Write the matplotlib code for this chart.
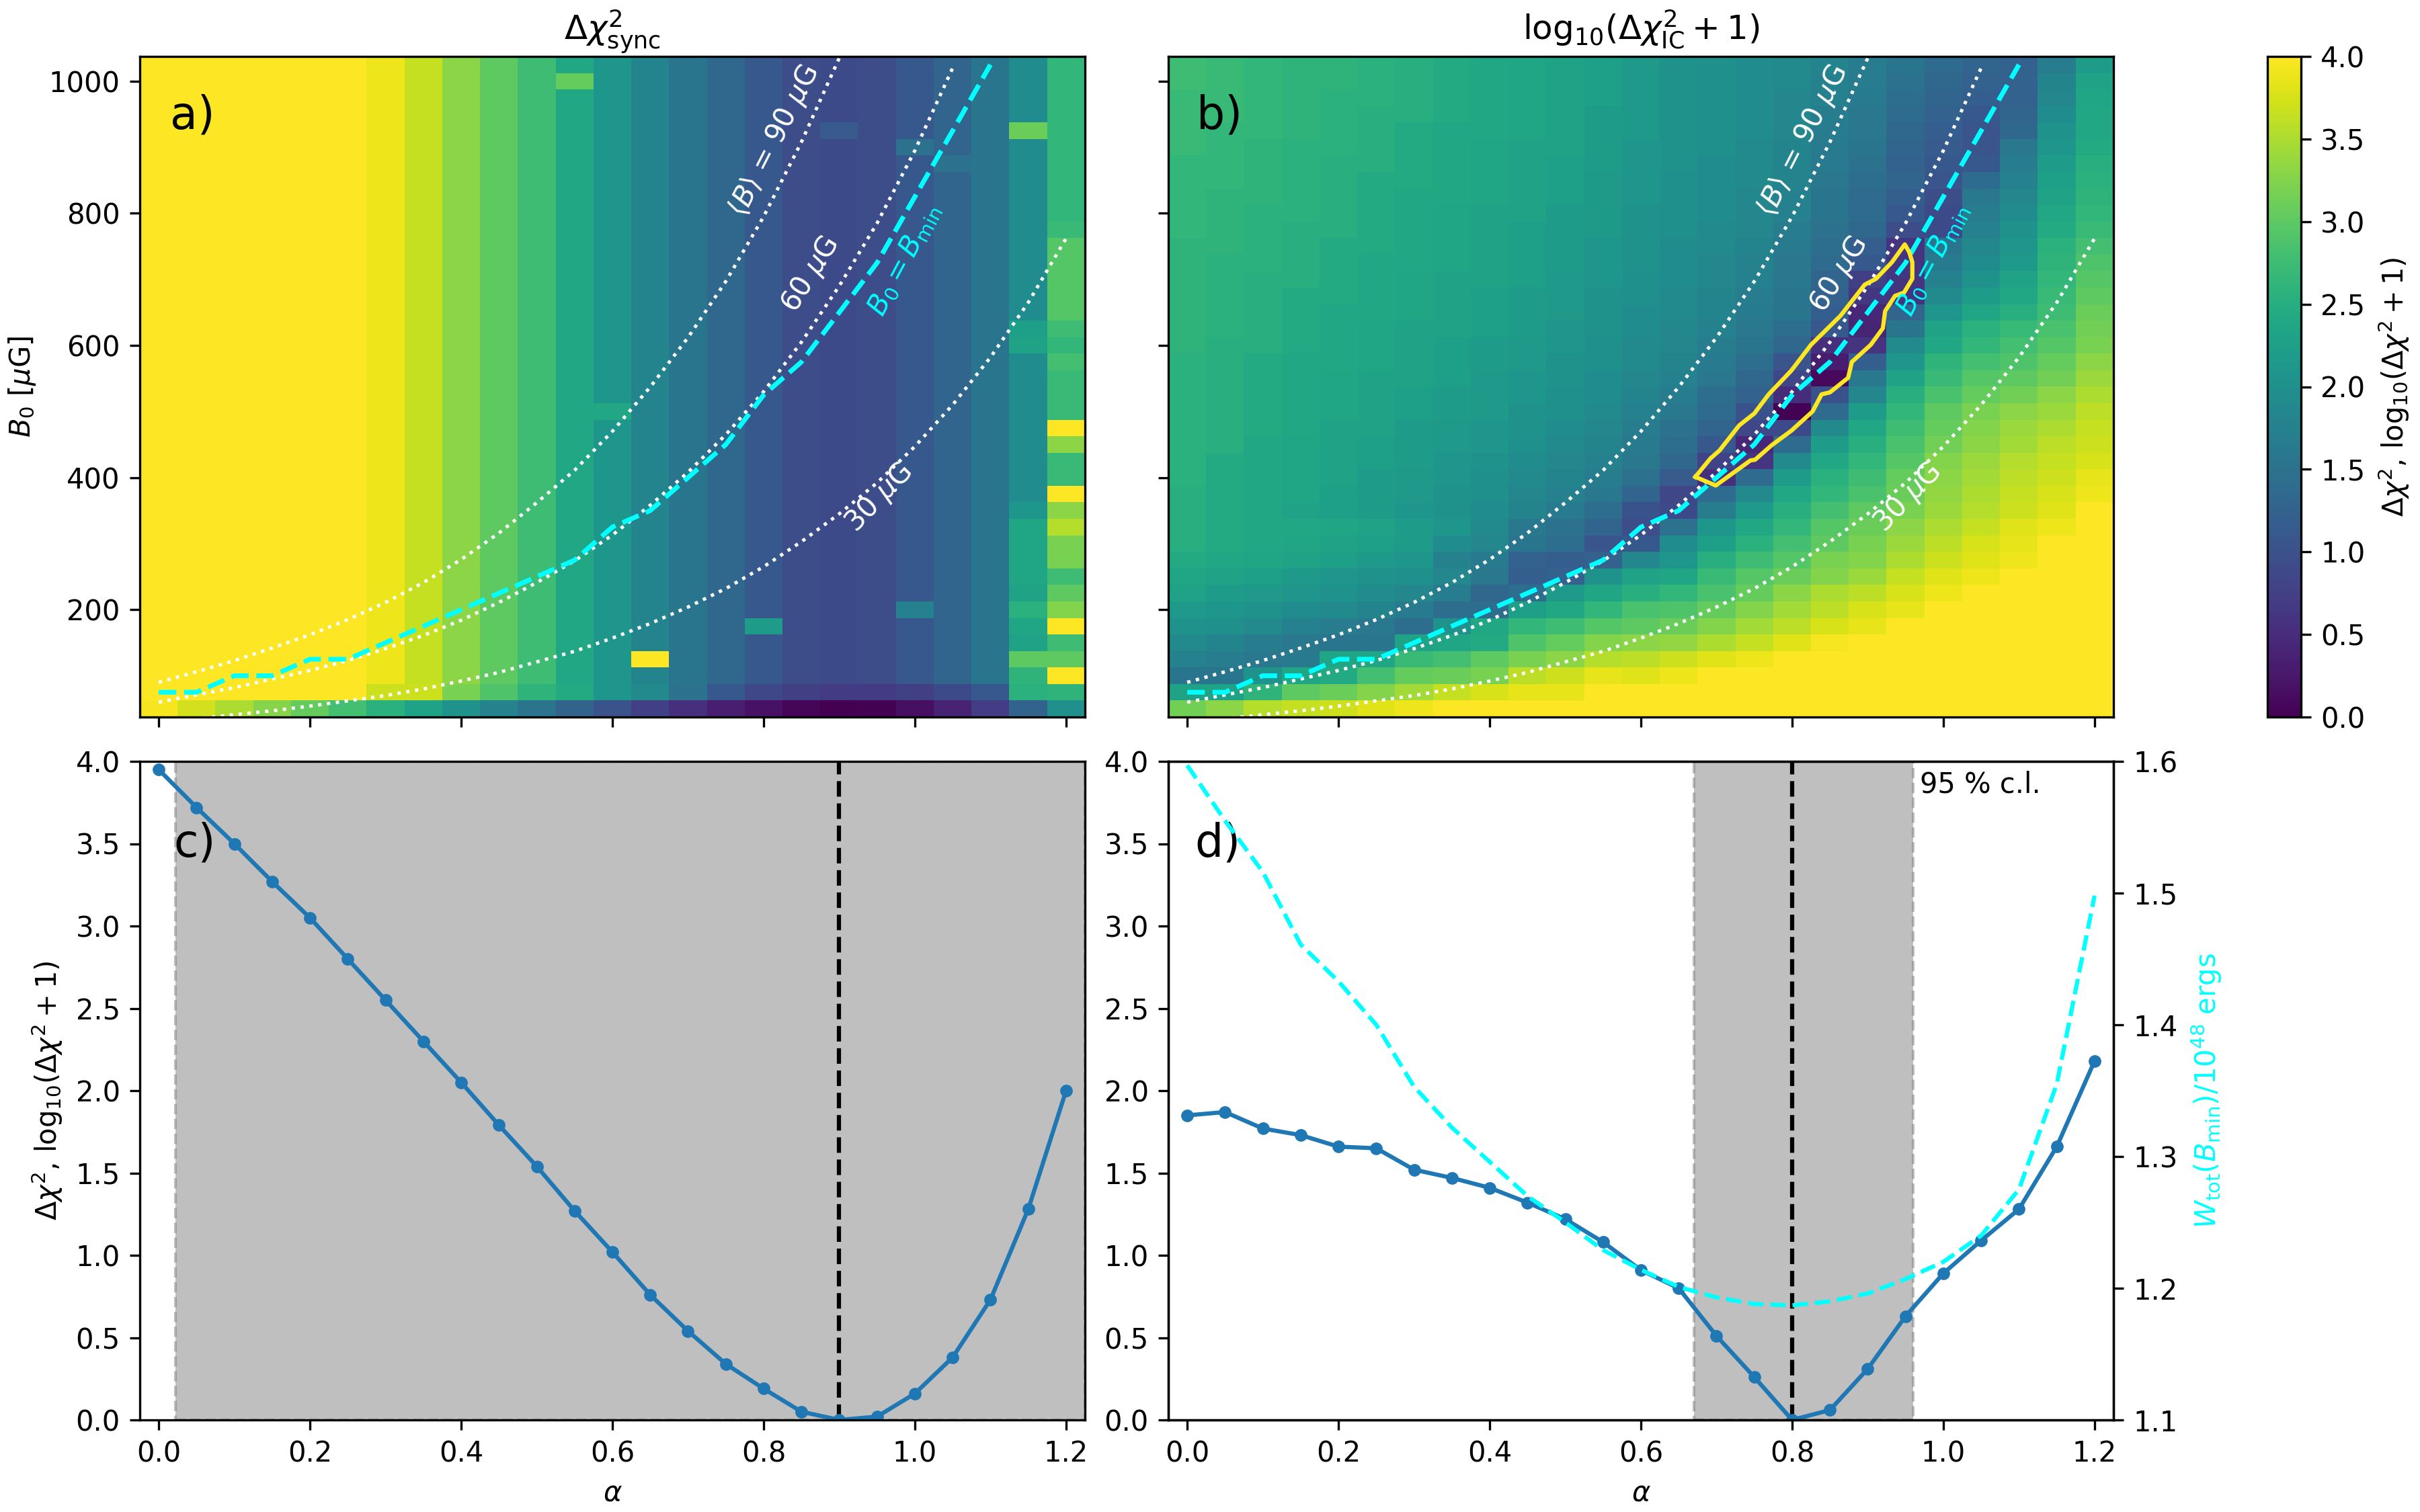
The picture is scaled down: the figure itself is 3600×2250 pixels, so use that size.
import numpy as np
import matplotlib
matplotlib.use('Agg')
import matplotlib.pyplot as plt

alpha = [0.0, 0.05, 0.1, 0.15, 0.2, 0.25, 0.3, 0.35, 0.4, 0.45, 0.5, 0.55, 0.6,
         0.65, 0.7, 0.75, 0.8, 0.85, 0.9, 0.95, 1.0, 1.05, 1.1, 1.15, 1.2]
# magnetic field rows, top row of the maps first
b0 = [1025, 1000, 975, 950, 925, 900, 875, 850, 825, 800, 775, 750, 725, 700,
      675, 650, 625, 600, 575, 550, 525, 500, 475, 450, 425, 400, 375, 350,
      325, 300, 275, 250, 225, 200, 175, 150, 125, 100, 75, 50]

# panel c / d curves
chi_sync_min = [3.95, 3.72, 3.5, 3.27, 3.05, 2.8, 2.55, 2.3, 2.05, 1.79, 1.54, 1.27, 1.02,
                0.76, 0.54, 0.34, 0.19, 0.05, 0.0, 0.02, 0.16, 0.38, 0.73, 1.28, 2.0]
chi_ic_min = [1.85, 1.87, 1.77, 1.73, 1.66, 1.65, 1.52, 1.47, 1.41, 1.32, 1.22, 1.08, 0.91,
              0.8, 0.51, 0.26, 0.0, 0.06, 0.31, 0.63, 0.89, 1.09, 1.28, 1.66, 2.18]
w_tot = [1.597, 1.555, 1.516, 1.461, 1.433, 1.40, 1.353, 1.322, 1.296, 1.27, 1.25, 1.229,
         1.214, 1.201, 1.193, 1.188, 1.187, 1.19, 1.196, 1.207, 1.22, 1.24, 1.275, 1.355, 1.498]

# B0 = B_min and the constant <B> curves
b_min = [75, 75, 100, 100, 125, 125, 150, 175, 200, 225, 250, 275, 325, 350, 400, 450,
         525, 575, 650, 725, 825, 925, 1025]
b_90 = [90, 106, 123, 142, 162, 185, 211, 241, 276, 316, 362, 411, 470, 537, 612, 697,
        795, 908, 1035]
b_60 = [60, 71, 82, 95, 108, 123, 141, 161, 184, 211, 241, 274, 313, 358, 408, 465,
        530, 605, 690, 785, 895, 1020]
b_30 = [30, 35, 41, 47, 54, 62, 70, 80, 92, 105, 121, 137, 157, 179, 204, 232,
        265, 303, 345, 392, 447, 510, 582, 665, 762]

# 95 % contour in panel b
cl_alpha = [0.672, 0.692, 0.704, 0.730, 0.750, 0.769, 0.799, 0.825, 0.864, 0.896, 0.911,
            0.932, 0.949, 0.955, 0.959, 0.959, 0.948, 0.936, 0.923, 0.920, 0.904, 0.879,
            0.874, 0.850, 0.839, 0.827, 0.799, 0.773, 0.751, 0.745, 0.699, 0.672]
cl_b0 = [401, 429, 441, 479, 497, 526, 562, 601, 645, 692, 701, 726, 753, 741, 726, 701,
         680, 675, 652, 626, 601, 575, 551, 529, 526, 500, 471, 449, 427, 426, 388, 401]

# panel a is nearly constant along B0
sync_levels = [4, 4, 4, 4, 4, 4, 3.9, 3.65, 3.3, 3.0, 2.75, 2.4, 2.1, 1.8, 1.55, 1.35,
               1.1, 0.95, 0.9, 0.95, 1.1, 1.3, 1.55, 1.95, 2.65]
sync_row_75 = [4, 4, 4, 4, 4, 4, 3.7, 3.7, 3.2, 2.9, 2.6, 2.45, 2.1, 1.9, 1.5, 1.1, 0.85,
               0.75, 0.7, 0.7, 0.75, 0.9, 1.1, 2.55, 2.6]
sync_col_115 = [1.95, 1.95, 1.95, 1.95, 3.1, 1.95, 1.95, 1.95, 1.95, 1.95, 1.95, 1.95, 1.95,
                1.95, 1.95, 1.95, 2.25, 2.3, 1.95, 1.95, 1.95, 1.95, 1.95, 1.95, 1.95, 1.95,
                1.95, 2.1, 2.35, 2.35, 2.35, 2.35, 2.3, 2.55, 2.35, 2.3, 3.0, 2.6, 2.55, 1.28]
sync_col_120 = [2.65, 2.65, 2.65, 2.65, 2.65, 2.65, 2.65, 2.65, 2.65, 2.65, 2.7, 2.95, 2.95,
                2.95, 2.95, 2.95, 2.75, 2.65, 2.8, 2.7, 2.7, 2.7, 4, 3.3, 2.7, 2.7, 4, 3.3,
                3.55, 3.2, 3.2, 2.75, 3.0, 3.25, 4, 2.75, 3.0, 4, 2.6, 2.0]
# single odd cells: alpha index, row index, value
sync_cells = [(11, 1, 3.05), (18, 4, 1.15), (20, 5, 1.5), (21, 6, 1.5), (12, 21, 2.4),
              (13, 36, 4), (16, 34, 2.2), (20, 33, 1.75)]

chi_ic_map = [
    [2.75, 2.7, 2.65, 2.6, 2.6, 2.55, 2.5, 2.45, 2.4, 2.35, 2.3, 2.25, 2.15, 2.05, 2.0, 1.95, 1.9, 1.8, 1.7, 1.55, 1.4, 1.3, 1.25, 1.7, 2.2],
    [2.75, 2.7, 2.65, 2.6, 2.6, 2.55, 2.5, 2.45, 2.4, 2.35, 2.3, 2.25, 2.15, 2.05, 2.0, 1.95, 1.9, 1.75, 1.7, 1.5, 1.35, 1.25, 1.25, 1.8, 2.3],
    [2.7, 2.7, 2.65, 2.6, 2.55, 2.55, 2.5, 2.45, 2.4, 2.35, 2.3, 2.25, 2.15, 2.05, 2.0, 1.95, 1.85, 1.75, 1.65, 1.45, 1.3, 1.2, 1.25, 1.85, 2.35],
    [2.7, 2.7, 2.65, 2.6, 2.55, 2.5, 2.5, 2.45, 2.4, 2.35, 2.3, 2.2, 2.15, 2.05, 2.0, 1.95, 1.85, 1.7, 1.6, 1.4, 1.25, 1.1, 1.3, 1.95, 2.4],
    [2.7, 2.65, 2.65, 2.6, 2.55, 2.5, 2.45, 2.4, 2.4, 2.35, 2.3, 2.2, 2.15, 2.05, 2.0, 1.95, 1.85, 1.7, 1.6, 1.35, 1.2, 1.05, 1.35, 2.05, 2.4],
    [2.7, 2.65, 2.6, 2.55, 2.55, 2.5, 2.45, 2.4, 2.35, 2.3, 2.3, 2.2, 2.1, 2.05, 2.0, 1.9, 1.8, 1.65, 1.55, 1.3, 1.15, 1.05, 1.6, 2.1, 2.45],
    [2.65, 2.65, 2.6, 2.55, 2.5, 2.5, 2.45, 2.4, 2.35, 2.3, 2.25, 2.2, 2.1, 2.05, 1.95, 1.9, 1.8, 1.65, 1.5, 1.25, 1.1, 1.1, 1.7, 2.2, 2.5],
    [2.65, 2.65, 2.6, 2.55, 2.5, 2.45, 2.45, 2.4, 2.35, 2.3, 2.25, 2.15, 2.1, 2.0, 1.95, 1.9, 1.8, 1.6, 1.45, 1.3, 1.05, 1.4, 1.75, 2.25, 2.55],
    [2.65, 2.6, 2.6, 2.55, 2.5, 2.45, 2.4, 2.4, 2.35, 2.3, 2.25, 2.15, 2.1, 2.0, 1.95, 1.85, 1.75, 1.55, 1.4, 1.2, 0.95, 1.6, 1.85, 2.3, 2.6],
    [2.65, 2.6, 2.55, 2.55, 2.5, 2.45, 2.4, 2.35, 2.3, 2.3, 2.2, 2.15, 2.05, 2.0, 1.95, 1.85, 1.75, 1.55, 1.4, 1.1, 0.9, 1.7, 1.95, 2.4, 2.65],
    [2.65, 2.6, 2.55, 2.5, 2.5, 2.45, 2.4, 2.35, 2.3, 2.25, 2.2, 2.15, 2.05, 2.0, 1.9, 1.85, 1.7, 1.5, 1.35, 0.95, 0.9, 1.75, 2.05, 2.45, 2.7],
    [2.6, 2.6, 2.55, 2.5, 2.45, 2.45, 2.4, 2.35, 2.3, 2.25, 2.2, 2.1, 2.05, 1.95, 1.9, 1.8, 1.65, 1.45, 1.2, 0.6, 1.55, 1.85, 2.1, 2.55, 2.8],
    [2.6, 2.55, 2.55, 2.5, 2.45, 2.4, 2.4, 2.35, 2.3, 2.25, 2.2, 2.1, 2.05, 1.95, 1.85, 1.75, 1.6, 1.4, 1.1, 0.6, 1.65, 1.95, 2.15, 2.6, 2.9],
    [2.6, 2.55, 2.5, 2.5, 2.45, 2.4, 2.35, 2.3, 2.3, 2.25, 2.15, 2.1, 2.0, 1.95, 1.85, 1.75, 1.6, 1.3, 0.75, 0.6, 1.75, 2.05, 2.3, 2.65, 2.95],
    [2.6, 2.55, 2.5, 2.45, 2.45, 2.4, 2.35, 2.3, 2.25, 2.2, 2.15, 2.05, 2.0, 1.9, 1.8, 1.7, 1.55, 1.25, 0.65, 0.6, 1.9, 2.2, 2.4, 2.7, 3.0],
    [2.6, 2.55, 2.5, 2.45, 2.4, 2.4, 2.35, 2.3, 2.25, 2.2, 2.15, 2.05, 1.95, 1.9, 1.8, 1.65, 1.55, 1.2, 0.45, 1.3, 2.1, 2.35, 2.5, 2.75, 3.1],
    [2.6, 2.55, 2.5, 2.45, 2.4, 2.35, 2.3, 2.3, 2.25, 2.2, 2.1, 2.05, 1.95, 1.85, 1.75, 1.6, 1.45, 1.1, 0.42, 1.55, 2.3, 2.55, 2.7, 2.85, 3.15],
    [2.6, 2.5, 2.5, 2.45, 2.4, 2.35, 2.3, 2.25, 2.2, 2.15, 2.1, 2.0, 1.9, 1.85, 1.7, 1.55, 1.35, 0.55, 0.6, 1.9, 2.4, 2.65, 2.8, 2.95, 3.2],
    [2.55, 2.5, 2.45, 2.4, 2.4, 2.35, 2.3, 2.25, 2.2, 2.15, 2.05, 2.0, 1.9, 1.8, 1.65, 1.45, 1.05, 0.3, 1.2, 2.1, 2.6, 2.8, 2.9, 3.05, 3.3],
    [2.55, 2.5, 2.45, 2.4, 2.35, 2.3, 2.3, 2.25, 2.15, 2.1, 2.05, 1.95, 1.85, 1.75, 1.6, 1.35, 0.85, 0.1, 1.6, 2.3, 2.7, 2.95, 3.0, 3.15, 3.4],
    [2.55, 2.5, 2.45, 2.4, 2.35, 2.3, 2.25, 2.2, 2.15, 2.1, 2.0, 1.95, 1.8, 1.7, 1.45, 1.25, 0.5, 1.0, 1.85, 2.5, 2.85, 3.05, 3.15, 3.3, 3.5],
    [2.55, 2.5, 2.45, 2.4, 2.35, 2.3, 2.25, 2.2, 2.15, 2.05, 2.0, 1.9, 1.75, 1.6, 1.4, 1.0, 0.02, 1.4, 2.2, 2.65, 3.0, 3.2, 3.3, 3.4, 3.6],
    [2.55, 2.5, 2.45, 2.4, 2.3, 2.3, 2.2, 2.15, 2.1, 2.05, 1.95, 1.85, 1.7, 1.5, 1.3, 0.85, 0.9, 1.9, 2.4, 2.75, 3.05, 3.25, 3.4, 3.5, 3.65],
    [2.55, 2.5, 2.4, 2.35, 2.3, 2.25, 2.2, 2.15, 2.1, 2.0, 1.9, 1.8, 1.65, 1.45, 1.1, 0.45, 1.4, 2.2, 2.5, 2.85, 3.15, 3.3, 3.45, 3.6, 3.7],
    [2.55, 2.45, 2.4, 2.35, 2.3, 2.25, 2.2, 2.1, 2.05, 1.95, 1.85, 1.75, 1.6, 1.35, 0.8, 0.6, 1.9, 2.4, 2.65, 2.95, 3.25, 3.4, 3.55, 3.65, 3.75],
    [2.55, 2.45, 2.4, 2.35, 2.3, 2.2, 2.15, 2.1, 2.0, 1.9, 1.8, 1.7, 1.5, 1.15, 0.55, 1.4, 2.2, 2.55, 2.75, 3.05, 3.3, 3.45, 3.6, 3.7, 3.85],
    [2.5, 2.45, 2.4, 2.35, 2.25, 2.2, 2.15, 2.05, 2.0, 1.85, 1.75, 1.6, 1.3, 0.85, 1.4, 1.9, 2.4, 2.65, 2.85, 3.1, 3.35, 3.5, 3.65, 3.75, 3.9],
    [2.5, 2.45, 2.4, 2.3, 2.25, 2.2, 2.1, 2.05, 1.95, 1.8, 1.65, 1.45, 1.0, 0.9, 1.7, 2.15, 2.5, 2.8, 3.0, 3.2, 3.4, 3.55, 3.7, 3.8, 4.0],
    [2.5, 2.45, 2.4, 2.4, 2.35, 2.3, 2.2, 2.1, 1.9, 1.6, 1.5, 1.3, 0.95, 1.5, 2.1, 2.4, 2.65, 2.95, 3.1, 3.3, 3.5, 3.65, 3.8, 3.9, 4],
    [2.5, 2.45, 2.4, 2.35, 2.3, 2.25, 2.2, 1.95, 1.85, 1.55, 1.45, 1.05, 1.1, 1.95, 2.25, 2.55, 2.8, 3.0, 3.2, 3.4, 3.6, 3.75, 3.85, 4, 4],
    [2.45, 2.4, 2.35, 2.3, 2.25, 2.15, 2.1, 1.75, 1.65, 1.25, 1.2, 1.25, 1.85, 2.1, 2.5, 2.75, 2.95, 3.2, 3.25, 3.5, 3.7, 3.8, 3.9, 4, 4],
    [2.35, 2.3, 2.25, 2.15, 2.1, 2.05, 2.0, 1.85, 1.6, 1.2, 1.25, 2.05, 2.3, 2.35, 2.7, 2.95, 3.1, 3.25, 3.4, 3.65, 3.8, 3.9, 4, 4, 4],
    [2.3, 2.2, 2.15, 2.1, 2.05, 1.95, 1.85, 1.7, 1.35, 1.45, 2.15, 2.35, 2.5, 2.65, 2.85, 3.05, 3.3, 3.5, 3.6, 3.75, 3.9, 4, 4, 4, 4],
    [2.15, 2.1, 2.05, 1.95, 1.9, 1.8, 1.65, 1.45, 1.45, 2.25, 2.4, 2.65, 2.85, 2.9, 3.05, 3.25, 3.45, 3.6, 3.75, 3.85, 4, 4, 4, 4, 4],
    [2.05, 2.0, 1.9, 1.75, 1.7, 1.6, 1.45, 2.05, 2.4, 2.65, 2.75, 2.95, 3.0, 3.1, 3.25, 3.45, 3.6, 3.75, 3.85, 4, 4, 4, 4, 4, 4],
    [1.9, 1.8, 1.7, 1.6, 1.55, 1.55, 2.3, 2.35, 2.45, 2.9, 3.05, 3.25, 3.3, 3.35, 3.5, 3.65, 3.8, 3.95, 4, 4, 4, 4, 4, 4, 4],
    [1.75, 1.7, 1.6, 1.65, 2.35, 2.35, 2.7, 2.8, 3.0, 3.2, 3.3, 3.55, 3.6, 3.7, 3.8, 3.9, 4, 4, 4, 4, 4, 4, 4, 4, 4],
    [1.55, 1.55, 2.05, 2.35, 2.45, 2.8, 3.05, 3.1, 3.2, 3.6, 3.7, 3.85, 3.8, 3.9, 4, 4, 4, 4, 4, 4, 4, 4, 4, 4, 4],
    [2.3, 2.3, 2.6, 3.0, 3.1, 3.25, 3.45, 3.65, 3.75, 3.85, 3.85, 4, 4, 4, 4, 4, 4, 4, 4, 4, 4, 4, 4, 4, 4],
    [3.15, 3.3, 3.55, 3.65, 3.7, 3.8, 3.9, 4, 4, 4, 4, 4, 4, 4, 4, 4, 4, 4, 4, 4, 4, 4, 4, 4, 4],
]

W, H = 3600, 2250


def box(left, right, top, bottom):
    return [left / W, 1 - bottom / H, (right - left) / W, (bottom - top) / H]


# panel a table
chi_sync_map = np.tile(np.array(sync_levels, dtype=float), (len(b0), 1))
chi_sync_map[-1] = chi_sync_min
chi_sync_map[-2] = sync_row_75
chi_sync_map[:, 23] = sync_col_115
chi_sync_map[:, 24] = sync_col_120
for col, row, val in sync_cells:
    chi_sync_map[row, col] = val

fig = plt.figure(figsize=(12, 7.5), dpi=300)
ax_a = fig.add_axes(box(208, 1614, 84, 1067))
ax_b = fig.add_axes(box(1738, 3144, 84, 1067))
ax_c = fig.add_axes(box(208, 1614, 1133, 2113))
ax_d = fig.add_axes(box(1738, 3144, 1133, 2113))
cax = fig.add_axes(box(3373, 3423, 84, 1067))

extent = [alpha[0] - 0.025, alpha[-1] + 0.025, b0[-1] - 12.5, b0[0] + 12.5]
for ax, table, title in [(ax_a, chi_sync_map, r'$\Delta\chi^2_{\rm sync}$'),
                         (ax_b, chi_ic_map, r'$\mathrm{log}_{10}(\Delta\chi^2_{\rm IC} + 1)$')]:
    im = ax.imshow(table, extent=extent, origin='upper', aspect='auto', vmin=0, vmax=4,
                   cmap='viridis', interpolation='nearest')
    ax.plot(alpha[:len(b_90)], b_90, color='white', ls=':', lw=1.2)
    ax.plot(alpha[:len(b_60)], b_60, color='white', ls=':', lw=1.2)
    ax.plot(alpha[:len(b_30)], b_30, color='white', ls=':', lw=1.2)
    ax.plot(alpha[:len(b_min)], b_min, color='cyan', ls='--', lw=1.7)
    ax.set_xlim(extent[0], extent[1])
    ax.set_ylim(extent[2], extent[3])
    ax.set_yticks([200, 400, 600, 800, 1000])
    ax.set_xticks([0.0, 0.2, 0.4, 0.6, 0.8, 1.0, 1.2])
    ax.set_xticklabels([])
    ax.set_title(title, fontsize=12)
    ax.text(0.814, 909, r'$\langle B \rangle$ = 90 $\mu$G', color='white', fontsize=10,
            rotation=63, ha='center', va='center')
    ax.text(0.862, 707, r'60 $\mu$G', color='white', fontsize=10, rotation=58,
            ha='center', va='center')
    ax.text(0.953, 369, r'30 $\mu$G', color='white', fontsize=10, rotation=46,
            ha='center', va='center')
    ax.text(0.986, 730, r'$B_0 = B_{\rm min}$', color='cyan', fontsize=10, rotation=62,
            ha='center', va='center')

ax_b.plot(cl_alpha, cl_b0, color='#fde725', lw=1.5)
ax_b.set_yticklabels([])
ax_a.set_ylabel(r'$B_0$ [$\mu$G]')
ax_a.text(0.032, 0.91, 'a)', transform=ax_a.transAxes, fontsize=16, va='center')
ax_b.text(0.03, 0.91, 'b)', transform=ax_b.transAxes, fontsize=16, va='center')

cb = fig.colorbar(im, cax=cax)
cb.set_ticks([0, 0.5, 1, 1.5, 2, 2.5, 3, 3.5, 4])
cb.set_label(r'$\Delta\chi^2$, $\mathrm{log}_{10}(\Delta\chi^2 + 1)$')

# lower panels
for ax, curve, best, low, high, tag, tag_x in [(ax_c, chi_sync_min, 0.9, 0.022, 1.225, 'c)', 0.036),
                                               (ax_d, chi_ic_min, 0.8, 0.67, 0.96, 'd)', 0.028)]:
    ax.axvspan(low, high, color='gray', alpha=0.5, ls='--')
    ax.axvline(best, color='k', ls='--', lw=1.5)
    ax.plot(alpha, curve, '-o', color='tab:blue', ms=3.5, lw=1.5)
    ax.set_xlim(extent[0], extent[1])
    ax.set_ylim(0, 4)
    ax.set_xticks([0.0, 0.2, 0.4, 0.6, 0.8, 1.0, 1.2])
    ax.set_xlabel(r'$\alpha$')
    ax.text(tag_x, 0.875, tag, transform=ax.transAxes, fontsize=16, va='center')

ax_c.set_ylabel(r'$\Delta\chi^2$, $\mathrm{log}_{10}(\Delta\chi^2 + 1)$')
ax_d.text(0.969, 3.86, '95 % c.l.', fontsize=10, va='center')

ax_w = ax_d.twinx()
ax_w.plot(alpha, w_tot, color='cyan', ls='--', lw=1.5)
ax_w.set_ylim(1.1, 1.6)
ax_w.set_yticks([1.1, 1.2, 1.3, 1.4, 1.5, 1.6])
ax_w.set_ylabel(r'$W_{\rm tot}(B_{\rm min})/10^{48}$ ergs', color='cyan')

fig.savefig('out.png', dpi=300)
